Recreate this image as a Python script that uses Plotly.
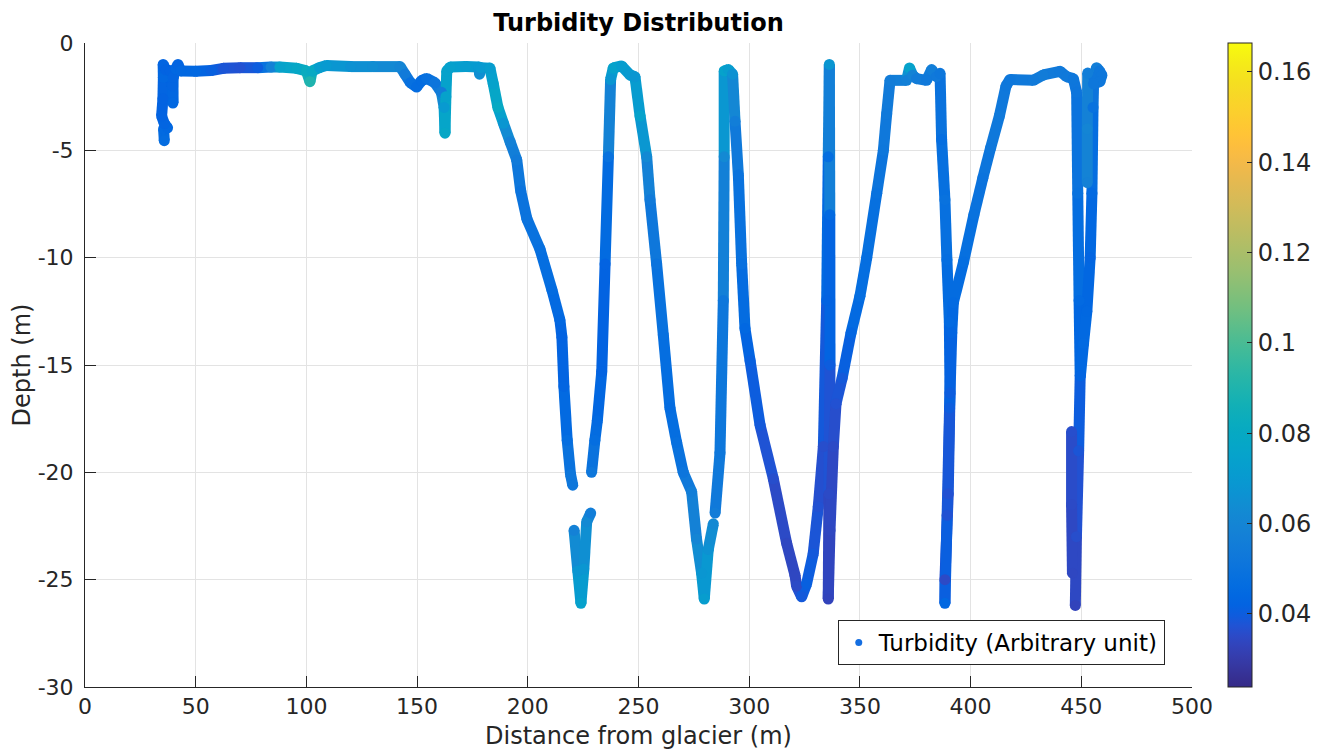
import plotly.graph_objects as go
from plotly.colors import sample_colorscale

# ---------------- data ----------------
distance_m = [
    35.8, 35.5, 37.3, 35.8, 34.6, 35.2, 35.4, 35.3, 36.5, 38.5, 39.5, 39.7, 39.8, 41.0, 42.0, 43.2,
    50.0, 57.0, 62.5, 70.0, 78.0, 84.0, 88.0, 95.6, 100.0, 101.6, 102.6, 106.0, 109.0, 120.0, 130.0,
    142.3, 144.5, 147.0, 149.8, 152.0, 154.3, 158.0, 161.0, 162.2, 162.6, 163.0, 163.4, 165.0, 172.0,
    178.0, 178.2, 178.8, 182.9, 184.4, 186.5, 189.0, 192.0, 195.0, 196.8, 199.6, 205.5, 210.9, 214.5,
    215.4, 216.3, 217.8, 219.3, 220.3, None,
    220.9, 222.6, 224.0, 225.3, 226.6, 228.4, None,
    228.8, 230.3, 231.4, 233.4, 234.9, 236.4, 237.4, 238.6, 242.4, 246.2, 248.4, 250.7, 253.7, 255.2,
    258.2, 261.2, 264.2, 267.2, 270.2, 274.0, 276.2, 278.5, 279.7, 281.5, 283.8, None,
    284.6, 286.8, 288.3, 288.7, 288.7, 290.6, 292.5, 293.6, 295.1, 296.6, 298.1, 300.4, 304.9, 310.9,
    316.9, 320.7, 321.4, 323.7, 325.9, 328.9, 331.2, 333.5, 335.0, 335.7, 336.2, 336.4, 336.5, 336.0,
    335.7, 336.5, 338.0, 339.2, 342.0, 346.0, 350.0, 353.1, 357.6, 360.6, 362.1, 363.6, 371.1, 372.4,
    373.8, 375.6, 380.1, 382.4, 384.6, 386.2, 386.9, 388.4, 389.3, 390.4, 390.7, 389.9, 388.4, 388.4,
    389.4, 390.5, 391.5, 392.2, 396.8, 401.5, 405.5, 409.0, 413.0, 416.0, 417.8, 428.3, 432.8, 440.4,
    443.4, 446.4, 447.9, 448.4, 449.0, 449.5, 448.8, 447.8, 447.3, None,
    445.6, 445.6, 446.0, None,
    449.6, 451.0, 452.5, 454.0, 454.8, 455.3, 455.6, 456.9, 458.2, 459.3, 458.4, 455.5, 452.9, 452.7,
    452.7,
]
depth_m = [
    -4.55, -4.0, -3.95, -3.75, -3.4, -2.6, -1.6, -1.0, -1.25, -1.3, -2.0, -2.8, -1.6, -1.2, -1.0, -1.3,
    -1.32, -1.28, -1.18, -1.15, -1.15, -1.12, -1.12, -1.18, -1.3, -1.8, -1.3, -1.14, -1.05, -1.1, -1.1,
    -1.1, -1.45, -1.85, -2.05, -1.75, -1.65, -1.85, -2.3, -3.0, -4.2, -2.5, -1.3, -1.12, -1.1,
    -1.12, -1.45, -1.15, -1.17, -1.9, -3.0, -3.74, -4.6, -5.45, -6.9, -8.2, -9.6, -11.5, -12.9,
    -13.7, -16.0, -18.5, -20.1, -20.6, None,
    -22.7, -24.6, -26.1, -24.5, -22.3, -21.9, None,
    -20.0, -18.5, -17.6, -15.3, -10.3, -5.3, -1.7, -1.16, -1.07, -1.49, -1.57, -3.4, -5.3, -7.3,
    -10.3, -13.6, -17.0, -18.6, -20.0, -20.9, -23.1, -24.7, -25.9, -23.6, -22.4, None,
    -21.9, -19.1, -12.0, -5.3, -1.3, -1.24, -1.45, -3.65, -6.15, -10.3, -13.3, -14.8, -17.8, -20.3,
    -23.3, -24.8, -25.3, -25.8, -25.2, -23.8, -21.6, -18.8, -12.0, -5.3, -1.0, -8.0, -15.0, -21.0,
    -25.9, -22.7, -18.8, -16.8, -15.6, -13.5, -11.8, -10.0, -7.0, -5.0, -3.3, -1.74, -1.74, -1.16,
    -1.5, -1.66, -1.74, -1.24, -1.57, -1.41, -4.5, -7.3, -10.1, -13.0, -16.3, -21.0, -25.0, -26.1,
    -22.0, -17.0, -13.5, -12.1, -10.2, -8.0, -6.3, -4.9, -3.4, -2.0, -1.7, -1.74, -1.49, -1.32,
    -1.57, -1.66, -2.3, -7.0, -12.0, -15.5, -19.0, -23.0, -26.2, None,
    -18.1, -21.5, -24.7, None,
    -15.5, -14.0, -12.5, -10.0, -7.0, -3.0, -1.6, -1.15, -1.3, -1.5, -1.8, -1.9, -1.4, -4.0,
    -6.5,
]
turbidity = [
    0.046, 0.045, 0.044, 0.043, 0.042, 0.042, 0.044, 0.043, 0.042, 0.042, 0.043, 0.044, 0.043, 0.044, 0.043, 0.044,
    0.044, 0.041, 0.038, 0.037, 0.040, 0.058, 0.075, 0.078, 0.082, 0.090, 0.080, 0.072, 0.070, 0.066, 0.064,
    0.060, 0.054, 0.048, 0.046, 0.046, 0.048, 0.051, 0.055, 0.070, 0.078, 0.075, 0.075, 0.074, 0.072,
    0.070, 0.065, 0.070, 0.072, 0.075, 0.080, 0.068, 0.058, 0.054, 0.050, 0.050, 0.048, 0.046, 0.044,
    0.042, 0.043, 0.047, 0.052, 0.052, None,
    0.058, 0.068, 0.074, 0.068, 0.062, 0.056, None,
    0.052, 0.047, 0.045, 0.042, 0.042, 0.049, 0.068, 0.075, 0.072, 0.070, 0.068, 0.075, 0.062, 0.054,
    0.050, 0.048, 0.046, 0.048, 0.051, 0.056, 0.060, 0.068, 0.072, 0.066, 0.062, None,
    0.055, 0.052, 0.052, 0.062, 0.075, 0.072, 0.066, 0.056, 0.050, 0.048, 0.044, 0.041, 0.039, 0.036,
    0.034, 0.034, 0.035, 0.039, 0.041, 0.039, 0.037, 0.036, 0.042, 0.047, 0.068, 0.045, 0.040, 0.035,
    0.033, 0.034, 0.035, 0.037, 0.039, 0.043, 0.047, 0.047, 0.049, 0.052, 0.053, 0.055, 0.057, 0.075,
    0.059, 0.055, 0.053, 0.056, 0.053, 0.052, 0.047, 0.049, 0.047, 0.045, 0.040, 0.037, 0.035, 0.044,
    0.037, 0.040, 0.043, 0.045, 0.047, 0.049, 0.050, 0.052, 0.053, 0.052, 0.052, 0.054, 0.055, 0.053,
    0.053, 0.052, 0.051, 0.049, 0.045, 0.042, 0.038, 0.036, 0.033, None,
    0.036, 0.035, 0.034, None,
    0.043, 0.045, 0.044, 0.043, 0.045, 0.049, 0.052, 0.056, 0.052, 0.052, 0.052, 0.052, 0.056, 0.060,
    0.058,
]

x_ticks = [0, 50, 100, 150, 200, 250, 300, 350, 400, 450, 500]
x_tick_labels = ["0", "50", "100", "150", "200", "250", "300", "350", "400", "450", "500"]
y_ticks = [0, -5, -10, -15, -20, -25, -30]
y_tick_labels = ["0", "-5", "-10", "-15", "-20", "-25", "-30"]
cbar_ticks = [0.04, 0.06, 0.08, 0.10, 0.12, 0.14, 0.16]
cbar_tick_labels = ["0.04", "0.06", "0.08", "0.1", "0.12", "0.14", "0.16"]
c_min, c_max = 0.0238, 0.1664

# ---------------- parula colour scale ----------------
parula = [
    [0.2081, 0.1663, 0.5292], [0.2116, 0.1898, 0.5777], [0.2123, 0.2138, 0.6270], [0.2081, 0.2386, 0.6771],
    [0.1959, 0.2645, 0.7279], [0.1707, 0.2919, 0.7792], [0.1253, 0.3242, 0.8303], [0.0591, 0.3598, 0.8683],
    [0.0117, 0.3875, 0.8820], [0.0060, 0.4086, 0.8828], [0.0165, 0.4266, 0.8786], [0.0329, 0.4430, 0.8720],
    [0.0498, 0.4586, 0.8641], [0.0629, 0.4737, 0.8554], [0.0723, 0.4887, 0.8467], [0.0779, 0.5040, 0.8384],
    [0.0793, 0.5200, 0.8312], [0.0749, 0.5375, 0.8263], [0.0641, 0.5570, 0.8240], [0.0488, 0.5772, 0.8228],
    [0.0343, 0.5966, 0.8199], [0.0265, 0.6137, 0.8135], [0.0239, 0.6287, 0.8038], [0.0231, 0.6418, 0.7913],
    [0.0228, 0.6535, 0.7768], [0.0267, 0.6642, 0.7607], [0.0384, 0.6743, 0.7436], [0.0590, 0.6838, 0.7254],
    [0.0843, 0.6928, 0.7062], [0.1133, 0.7015, 0.6859], [0.1453, 0.7098, 0.6646], [0.1801, 0.7177, 0.6424],
    [0.2178, 0.7250, 0.6193], [0.2586, 0.7317, 0.5954], [0.3022, 0.7376, 0.5712], [0.3482, 0.7424, 0.5473],
    [0.3953, 0.7459, 0.5244], [0.4420, 0.7481, 0.5033], [0.4871, 0.7491, 0.4840], [0.5300, 0.7491, 0.4661],
    [0.5709, 0.7485, 0.4494], [0.6099, 0.7473, 0.4337], [0.6473, 0.7456, 0.4188], [0.6834, 0.7435, 0.4044],
    [0.7184, 0.7411, 0.3905], [0.7525, 0.7384, 0.3768], [0.7858, 0.7356, 0.3633], [0.8185, 0.7327, 0.3498],
    [0.8507, 0.7299, 0.3360], [0.8824, 0.7274, 0.3217], [0.9139, 0.7258, 0.3063], [0.9450, 0.7261, 0.2886],
    [0.9739, 0.7314, 0.2666], [0.9938, 0.7455, 0.2403], [0.9990, 0.7653, 0.2164], [0.9955, 0.7861, 0.1967],
    [0.9880, 0.8066, 0.1794], [0.9789, 0.8271, 0.1633], [0.9697, 0.8481, 0.1475], [0.9626, 0.8705, 0.1309],
    [0.9589, 0.8949, 0.1132], [0.9598, 0.9218, 0.0948], [0.9661, 0.9514, 0.0755], [0.9763, 0.9831, 0.0538],
]
n = len(parula)
parula_scale = [
    [i / (n - 1), "rgb(%d,%d,%d)" % (round(r * 255), round(g * 255), round(b * 255))]
    for i, (r, g, b) in enumerate(parula)
]

FONT = "DejaVu Sans"
AX = "#262626"

fig = go.Figure()

# coloured path segments between consecutive samples
for i in range(len(distance_m) - 1):
    if distance_m[i] is None or distance_m[i + 1] is None:
        continue
    t = (turbidity[i] + turbidity[i + 1]) / 2
    frac = min(max((t - c_min) / (c_max - c_min), 0), 1)
    col = sample_colorscale(parula_scale, [frac])[0]
    fig.add_trace(go.Scatter(
        x=distance_m[i:i + 2], y=depth_m[i:i + 2], mode="lines",
        line=dict(color=col, width=11), showlegend=False, hoverinfo="skip",
    ))

# the samples themselves, coloured by turbidity
pts = [(d, z, t) for d, z, t in zip(distance_m, depth_m, turbidity) if d is not None]
fig.add_trace(go.Scatter(
    x=[p[0] for p in pts], y=[p[1] for p in pts], mode="markers",
    marker=dict(
        size=11, color=[p[2] for p in pts], colorscale=parula_scale, cmin=c_min, cmax=c_max,
        line=dict(width=0),
        colorbar=dict(
            x=1.0325, xanchor="left", xpad=0, y=0, yanchor="bottom", yref="paper", ypad=0,
            len=1, lenmode="fraction", thickness=24, thicknessmode="pixels",
            outlinecolor=AX, outlinewidth=1, ticks="inside", ticklen=5, tickcolor=AX,
            tickvals=cbar_ticks, ticktext=cbar_tick_labels,
            tickfont=dict(family=FONT, size=24, color=AX),
        ),
    ),
    showlegend=False, name="Turbidity (Arbitrary unit)",
))

# legend entry
fig.add_trace(go.Scatter(
    x=[None], y=[None], mode="markers", name="Turbidity (Arbitrary unit)",
    marker=dict(size=7, color="rgb(20,110,225)"),
))

fig.update_layout(
    width=1326, height=751,
    margin=dict(l=77, r=142, t=35, b=72, autoexpand=False),
    paper_bgcolor="white", plot_bgcolor="white",
    font=dict(family=FONT, color=AX),
    title=dict(
        text="<b>Turbidity Distribution</b>", x=0.5, xref="paper", xanchor="center",
        y=1 - 15 / 751, yref="container", yanchor="middle",
        font=dict(family=FONT, size=24, color="black"),
    ),
    showlegend=True,
    legend=dict(
        x=0.680, y=0.104, xanchor="left", yanchor="top",
        bgcolor="white", bordercolor=AX, borderwidth=1,
        font=dict(family=FONT, size=23, color="black"),
        itemwidth=30,
    ),
)
fig.update_xaxes(
    range=[0, 500], tickvals=x_ticks, ticktext=x_tick_labels,
    showgrid=True, gridcolor="#e3e3e3", gridwidth=1, zeroline=False,
    showline=True, linecolor=AX, linewidth=1, mirror=False, automargin=False,
    ticks="inside", ticklen=11, tickcolor=AX,
    tickfont=dict(family=FONT, size=22, color=AX),
    title=dict(text="Distance from glacier (m)", font=dict(family=FONT, size=24, color=AX), standoff=8),
)
fig.update_yaxes(
    range=[-30, 0], tickvals=y_ticks, ticktext=y_tick_labels,
    showgrid=True, gridcolor="#e3e3e3", gridwidth=1, zeroline=False,
    showline=True, linecolor=AX, linewidth=1, mirror=False, automargin=False,
    ticks="inside", ticklen=11, tickcolor=AX, ticklabelstandoff=6,
    tickfont=dict(family=FONT, size=22, color=AX),
    title=dict(text="Depth (m)", font=dict(family=FONT, size=24, color=AX), standoff=12),
)

fig.write_html("out.html")
